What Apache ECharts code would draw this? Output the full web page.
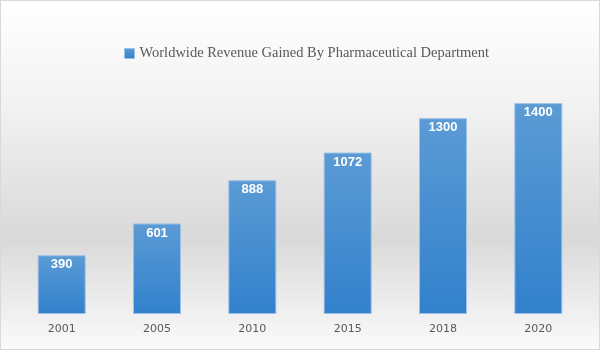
<!DOCTYPE html>
<html>
<head>
<meta charset="utf-8">
<script src="https://cdn.jsdelivr.net/npm/echarts@6/dist/echarts.min.js"></script>
<style>
html,body{margin:0;padding:0;}
#chart{width:600px;height:350px;box-sizing:border-box;border:1px solid #d9d9d9;
background:linear-gradient(to bottom,#ffffff 0%,#f2f2f2 30%,#d9d9d9 68%,#f2f2f2 92%,#fafafa 100%);}
</style>
</head>
<body>
<div id="chart"></div>
<script>
const categories = ['2001','2005','2010','2015','2018','2020'];
const revenue = [390, 601, 888, 1072, 1300, 1400];
const seriesName = 'Worldwide Revenue Gained By Pharmaceutical Department';

const chart = echarts.init(document.getElementById('chart'), null, {renderer:'canvas', width:598, height:348});
chart.setOption({
  backgroundColor: 'transparent',
  animation: false,
  legend: {
    top: 40, left: 118,
    itemWidth: 10, itemHeight: 10, itemGap: 4,
    icon: 'rect',
    itemStyle: {borderColor: '#9dc0e6', borderWidth: 1},
    textStyle: {fontFamily: 'Liberation Serif', fontSize: 14.5, color: '#595959'},
    data: [seriesName]
  },
  grid: {left: 13, right: 13, top: 72, bottom: 35},
  xAxis: {
    type: 'category', data: categories,
    axisLine: {show: false}, axisTick: {show: false},
    axisLabel: {color: '#595959', fontFamily: 'DejaVu Sans', fontSize: 11, margin: 10}
  },
  yAxis: {type: 'value', min: 0, max: 1600, show: false, splitLine: {show: false}},
  series: [{
    name: seriesName, type: 'bar', data: revenue, barWidth: 48,
    itemStyle: {
      color: new echarts.graphic.LinearGradient(0,0,0,1,[
        {offset:0,color:'#5b9bd5'},{offset:1,color:'#3281cc'}]),
      borderColor: '#9dc0e6', borderWidth: 1
    },
    label: {
      show: true, position: 'insideTop', distance: 3,
      color: '#ffffff', fontWeight: 'bold', fontFamily: 'Liberation Sans', fontSize: 13
    }
  }]
});
</script>
</body>
</html>
